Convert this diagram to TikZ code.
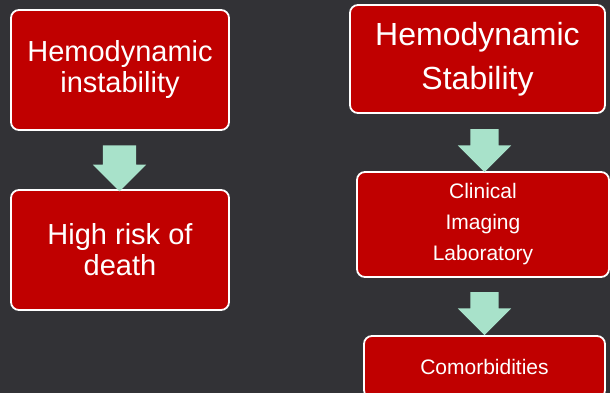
\documentclass[tikz,border=0pt]{standalone}
\usepackage{fontspec}
\setmainfont{Liberation Sans}
\usetikzlibrary{shapes.arrows}

\definecolor{bgcol}{RGB}{50,50,54}
\definecolor{boxred}{RGB}{192,0,0}
\definecolor{mint}{RGB}{168,226,202}

\tikzset{
	redbox/.style={draw=white, line width=1.8pt, fill=boxred, rounded corners=8pt,
		text=white, align=center, inner sep=0pt},
	downarrow/.style={single arrow, fill=mint, rotate=-90, inner xsep=0pt,
		single arrow head indent=0pt},
	bigtext/.style={font=\fontsize{29}{31}\selectfont},
	hugetext/.style={font=\fontsize{32}{44}\selectfont},
	smalltext/.style={font=\fontsize{21}{31}\selectfont}
}

\begin{document}
\begin{tikzpicture}[x=1pt, y=-1pt]
		% фон
		\useasboundingbox ( 0, 0 ) rectangle ( 610, 393 );
		\clip ( 0, 0 ) rectangle ( 610, 393 );
		\fill [bgcol] ( 0, 0 ) rectangle ( 610, 393 );

		% левая колонка
		\node [redbox, bigtext, minimum width=218pt, minimum height=120pt] (ins) at ( 120, 70 ) {Hemodynamic\\instability};
		\node [redbox, bigtext, minimum width=218pt, minimum height=120pt] (risk) at ( 120, 250 ) {High risk of\\death};
		\node [downarrow, inner ysep=16.5pt, single arrow head extend=10pt, minimum height=46pt] (a1) at ( 119.5, 160 ) {};

		% правая колонка
		\node [redbox, hugetext, minimum width=255pt, minimum height=108pt] (stab) at ( 477.5, 59 ) {Hemodynamic\\Stability};
		\node [redbox, smalltext, minimum width=252pt, minimum height=105pt] (cli) at ( 483, 224.5 ) {Clinical\\Imaging\\Laboratory};
		\node [redbox, smalltext, minimum width=241pt, minimum height=62pt] (com) at ( 484.5, 367 ) {Comorbidities};
		\node [downarrow, inner ysep=14pt, single arrow head extend=12.5pt, minimum height=43pt] (a2) at ( 484.5, 143.5 ) {};
		\node [downarrow, inner ysep=14pt, single arrow head extend=12.5pt, minimum height=43pt] (a3) at ( 484.5, 306.5 ) {};
\end{tikzpicture}
\end{document}
